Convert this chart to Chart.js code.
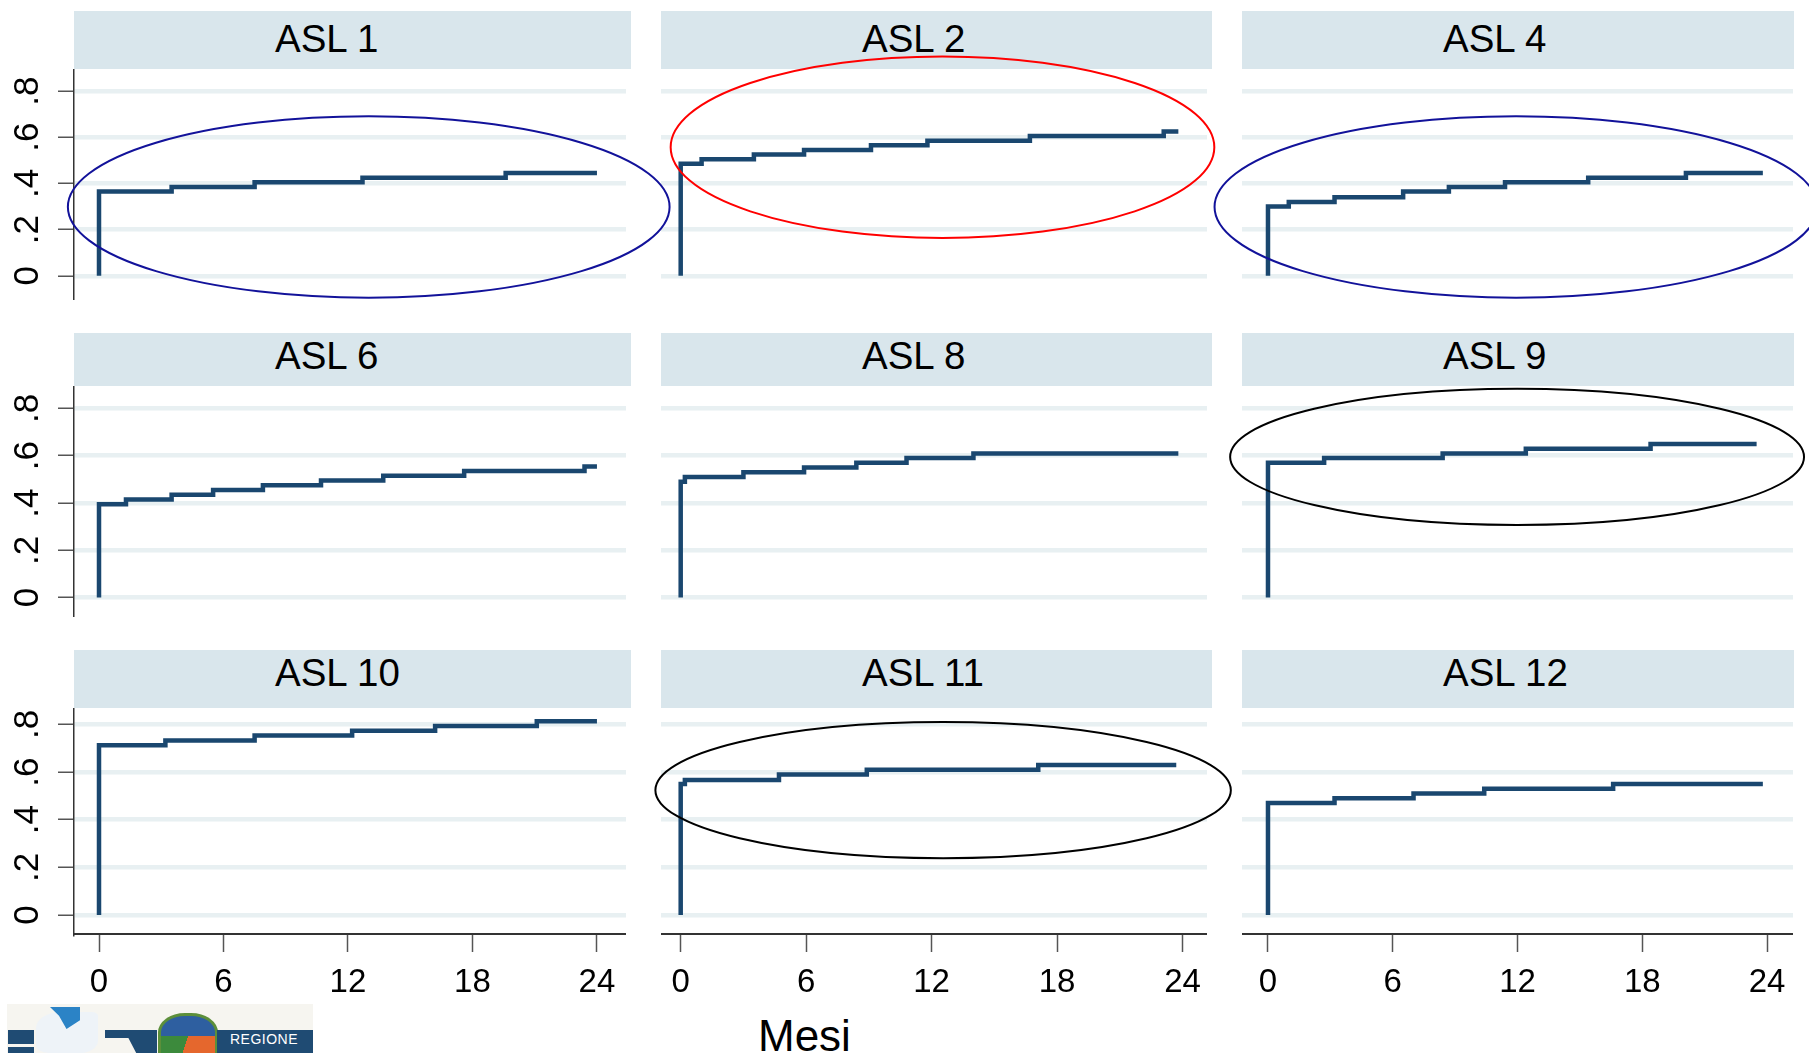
<!DOCTYPE html>
<html>
<head>
<meta charset="utf-8">
<title>ASL - Mesi</title>
<script src="https://cdn.jsdelivr.net/npm/chart.js@4.4.0/dist/chart.umd.min.js"></script>
<style>
  html, body { margin: 0; padding: 0; background: #fff; }
  #page { position: relative; width: 1809px; height: 1053px; overflow: hidden; font-family: "Liberation Sans", Arial, sans-serif; }
  .strip { position: absolute; background: #d9e6ec; }
  .strip span { position: absolute; font-size: 38.5px; line-height: 38px; color: #000; white-space: nowrap; }
  canvas { position: absolute; }
  #xtitle { position: absolute; left: 758px; top: 1014px; font-size: 44px; line-height: 44px; color: #000; }
  .logo { position: absolute; }
</style>
</head>
<body>
<div id="page">
  <div id="xtitle">Mesi</div>
  <div class="logo" style="left:7px; top:1004px; width:306px; height:49px; background:#f6f5f0"></div>
  <div class="logo" style="left:8px; top:1030px; width:26px; height:14px; background:#1f4b73"></div>
  <div class="logo" style="left:8px; top:1047px; width:26px; height:6px; background:#1f4b73"></div>
  <div class="logo" style="left:36px; top:1012px; width:62px; height:41px; background:#eef3f8; border-radius:40% 10% 30% 20%"></div>
  <div class="logo" style="left:50px; top:1007px; width:30px; height:22px; background:#2b83c6; clip-path:polygon(0 0,100% 0,100% 60%,55% 100%,30% 40%)"></div>
  <div class="logo" style="left:105px; top:1030px; width:52px; height:23px; background:#1f4b73; clip-path:polygon(0 0,100% 0,100% 100%,60% 100%,45% 35%,0 35%)"></div>
  <div class="logo" style="left:158px; top:1013px; width:54px; height:40px; border:3px solid #5c8f3a; border-bottom:none; border-radius:45% 45% 0 0; background:conic-gradient(#2e5fa0 0 25%, #e5672d 25% 55%, #3c8a3c 55% 75%, #2e5fa0 75%)"></div>
  <div class="logo" style="left:217px; top:1030px; width:96px; height:23px; background:#1f4b73"></div>
  <div class="logo" style="left:230px; top:1032px; font-size:14px; line-height:14px; color:#fff; letter-spacing:0.5px">REGIONE</div>
</div>
<script>
// Cumulative share by ASL over 24 months, step points as [month, value]
const panelNames = ['ASL 1', 'ASL 2', 'ASL 4', 'ASL 6', 'ASL 8', 'ASL 9', 'ASL 10', 'ASL 11', 'ASL 12'];

const asl1 = [[0, 0], [0, 0.365], [3.5, 0.385], [7.5, 0.405], [12.7, 0.425], [19.6, 0.445], [24, 0.445]];
const asl2 = [[0, 0], [0, 0.485], [1.0, 0.505], [3.5, 0.525], [5.9, 0.545], [9.1, 0.565], [11.8, 0.585], [16.7, 0.605], [23.1, 0.625], [23.8, 0.625]];
const asl4 = [[0, 0], [0, 0.30], [1.0, 0.32], [3.2, 0.34], [6.5, 0.365], [8.7, 0.385], [11.4, 0.405], [15.4, 0.425], [20.1, 0.445], [23.8, 0.445]];
const asl6 = [[0, 0], [0, 0.395], [1.3, 0.415], [3.5, 0.435], [5.5, 0.455], [7.9, 0.475], [10.7, 0.495], [13.7, 0.515], [17.6, 0.535], [23.4, 0.555], [24, 0.555]];
const asl8 = [[0, 0], [0, 0.49], [0.2, 0.51], [3.0, 0.53], [5.9, 0.55], [8.4, 0.57], [10.8, 0.59], [14.0, 0.61], [23.8, 0.61]];
const asl9 = [[0, 0], [0, 0.57], [2.7, 0.59], [8.4, 0.61], [12.4, 0.63], [18.4, 0.65], [23.5, 0.65]];
const asl10 = [[0, 0], [0, 0.713], [3.2, 0.733], [7.5, 0.753], [12.2, 0.773], [16.2, 0.793], [21.1, 0.813], [24, 0.813]];
const asl11 = [[0, 0], [0, 0.55], [0.2, 0.567], [4.7, 0.59], [8.9, 0.61], [17.1, 0.63], [23.7, 0.63]];
const asl12 = [[0, 0], [0, 0.47], [3.2, 0.49], [7.0, 0.51], [10.4, 0.53], [16.6, 0.55], [23.8, 0.55]];

const monthTicks = [0, 6, 12, 18, 24];
const valueTicks = [0, 0.2, 0.4, 0.6, 0.8];

// hand-drawn circles: panel, centre (month, value), half width in months, half height in value
const circles = [
    { panel: 0, month: 13.0, value: 0.298, halfMonths: 14.5, halfValue: 0.393, color: '#12129a' },
    { panel: 1, month: 12.52, value: 0.557, halfMonths: 13.0, halfValue: 0.393, color: '#ff0000' },
    { panel: 2, month: 11.93, value: 0.298, halfMonths: 14.5, halfValue: 0.393, color: '#12129a' },
    { panel: 5, month: 11.98, value: 0.595, halfMonths: 13.8, halfValue: 0.288, color: '#000000' },
    { panel: 7, month: 12.55, value: 0.524, halfMonths: 13.76, halfValue: 0.286, color: '#000000' }
];

const series = [asl1, asl2, asl4, asl6, asl8, asl9, asl10, asl11, asl12];

// page layout (pixels)
const cols = [
    { left: 74, right: 626, stripRight: 631, xMin: -1.205, xMax: 25.4 },
    { left: 661, right: 1207, stripRight: 1212, xMin: -0.942, xMax: 25.17 },
    { left: 1242, right: 1793, stripRight: 1794, xMin: -1.25, xMax: 25.25 }
];
const rows = [
    { stripTop: 11, top: 69, bottom: 300, textTop: 20, yMin: -0.105, yMax: 0.8956 },
    { stripTop: 333, top: 386, bottom: 617, textTop: 337, yMin: -0.082, yMax: 0.895 },
    { stripTop: 650, top: 708, bottom: 934, textTop: 654, yMin: -0.080, yMax: 0.869 }
];
const fontFamily = '"Liberation Sans", Arial, sans-serif';

const page = document.getElementById('page');
const charts = [];

series.forEach(function(points, i) {
    const r = Math.floor(i / 3);
    const c = i % 3;
    const row = rows[r];
    const col = cols[c];

    const strip = document.createElement('div');
    strip.className = 'strip';
    strip.style.left = col.left + 'px';
    strip.style.top = row.stripTop + 'px';
    strip.style.width = (col.stripRight - col.left) + 'px';
    strip.style.height = (row.top - row.stripTop) + 'px';
    const label = document.createElement('span');
    label.textContent = panelNames[i];
    label.style.left = '201px';
    label.style.top = (row.textTop - row.stripTop) + 'px';
    strip.appendChild(label);
    page.appendChild(strip);

    const yAxisW = c === 0 ? col.left : 0;
    const xAxisH = r === 2 ? 75 : 0;
    const left = col.left - yAxisW;
    const top = row.top;
    const canvas = document.createElement('canvas');
    canvas.width = col.right - col.left + yAxisW;
    canvas.height = row.bottom - row.top + xAxisH;
    canvas.style.left = left + 'px';
    canvas.style.top = top + 'px';
    canvas.style.width = canvas.width + 'px';
    canvas.style.height = canvas.height + 'px';
    page.appendChild(canvas);

    const chart = new Chart(canvas.getContext('2d'), {
        type: 'line',
        data: {
            datasets: [{
                label: panelNames[i],
                data: points.map(function(p) { return { x: p[0], y: p[1] }; }),
                stepped: true,
                borderColor: '#1a476f',
                borderWidth: 4.5,
                pointRadius: 0,
                fill: false
            }]
        },
        options: {
            responsive: false,
            animation: false,
            devicePixelRatio: 1,
            layout: { padding: 0 },
            plugins: {
                legend: { display: false },
                tooltip: { enabled: false }
            },
            scales: {
                x: {
                    type: 'linear',
                    min: col.xMin,
                    max: col.xMax,
                    display: r === 2,
                    afterBuildTicks: function(axis) {
                        axis.ticks = monthTicks.map(function(v) { return { value: v }; });
                    },
                    afterFit: function(axis) {
                        axis.height = xAxisH;
                        axis.paddingLeft = 0;
                        axis.paddingRight = 0;
                    },
                    grid: { drawOnChartArea: false, drawTicks: true, tickLength: 18, tickColor: '#555', tickWidth: 1.5 },
                    border: { display: true, color: '#333', width: 2 },
                    ticks: {
                        color: '#000',
                        font: { family: fontFamily, size: 33 },
                        padding: 11,
                        maxRotation: 0,
                        autoSkip: false
                    }
                },
                y: {
                    type: 'linear',
                    min: row.yMin,
                    max: row.yMax,
                    afterBuildTicks: function(axis) {
                        axis.ticks = valueTicks.map(function(v) { return { value: v }; });
                    },
                    afterFit: function(axis) {
                        axis.width = yAxisW;
                        axis.paddingTop = 0;
                        axis.paddingBottom = 0;
                    },
                    grid: { color: '#e8f0f2', lineWidth: 4.5, drawTicks: c === 0, tickLength: 16, tickColor: '#555', tickWidth: 1.5 },
                    border: { display: c === 0, color: '#333', width: 1.5 },
                    ticks: {
                        display: c === 0,
                        color: '#000',
                        font: { family: fontFamily, size: 35 },
                        minRotation: 90,
                        maxRotation: 90,
                        autoSkip: false,
                        crossAlign: 'center',
                        padding: 15,
                        callback: function(v) { return v === 0 ? '0' : v.toFixed(1).replace(/^0/, ''); }
                    }
                }
            }
        }
    });
    charts.push({ chart: chart, left: left, top: top });
});

// circles drawn over all panels
const overlay = document.createElement('canvas');
overlay.width = 1809;
overlay.height = 1053;
overlay.style.left = '0px';
overlay.style.top = '0px';
overlay.style.pointerEvents = 'none';
page.appendChild(overlay);
const octx = overlay.getContext('2d');
circles.forEach(function(h) {
    const p = charts[h.panel];
    const xs = p.chart.scales.x;
    const ys = p.chart.scales.y;
    const cx = p.left + xs.getPixelForValue(h.month);
    const cy = p.top + ys.getPixelForValue(h.value);
    const rx = Math.abs(xs.getPixelForValue(h.month + h.halfMonths) - xs.getPixelForValue(h.month));
    const ry = Math.abs(ys.getPixelForValue(h.value + h.halfValue) - ys.getPixelForValue(h.value));
    octx.beginPath();
    octx.ellipse(cx, cy, rx, ry, 0, 0, Math.PI * 2);
    octx.strokeStyle = h.color;
    octx.lineWidth = 2;
    octx.stroke();
});
</script>
</body>
</html>
